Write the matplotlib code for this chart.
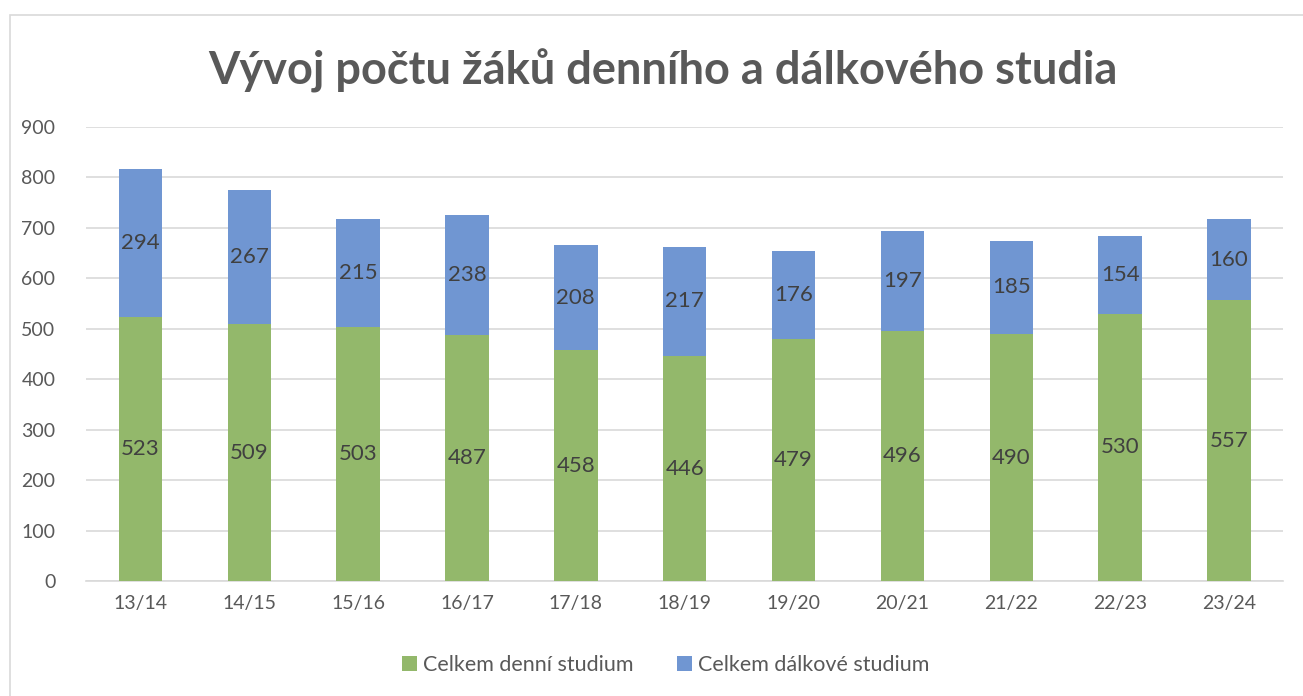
import matplotlib
matplotlib.use("Agg")
import matplotlib.pyplot as plt
from matplotlib.patches import Rectangle
import numpy as np

# ---- data ------------------------------------------------------------------ #
years = ["13/14", "14/15", "15/16", "16/17", "17/18", "18/19",
         "19/20", "20/21", "21/22", "22/23", "23/24"]
denni = [523, 509, 503, 487, 458, 446, 479, 496, 490, 530, 557]
dalkove = [294, 267, 215, 238, 208, 217, 176, 197, 185, 154, 160]

GREEN = "#93B86B"
BLUE = "#7096D2"
TXT = "#595959"

plt.rcParams["font.family"] = ["Lato", "DejaVu Sans"]

fig = plt.figure(figsize=(13.03, 6.96), dpi=100)
# chart border
fig.add_artist(Rectangle((10 / 1303, -0.1), 1.2, 1 - 15 / 696 + 0.1,
                         transform=fig.transFigure, fill=False,
                         edgecolor="#D9D9D9", lw=1.2))

ax = fig.add_axes([0.066, 0.165, 0.919, 0.6525])
x = np.arange(len(years))
w = 0.4
b1 = ax.bar(x, denni, w, color=GREEN, label="Celkem denní studium", zorder=3)
b2 = ax.bar(x, dalkove, w, bottom=denni, color=BLUE,
            label="Celkem dálkové studium", zorder=3)
ax.bar_label(b1, label_type="center", fontsize=16, color="#404040")
ax.bar_label(b2, label_type="center", fontsize=16, color="#404040")

ax.set_ylim(0, 900)
ax.set_xlim(-0.5, len(years) - 0.5)
ax.set_yticks(range(0, 901, 100))
ax.set_xticks(x, years)
ax.grid(axis="y", color="#D9D9D9", lw=1.2, zorder=0)
for s in ("top", "right", "left"):
    ax.spines[s].set_visible(False)
ax.spines["bottom"].set_color("#D9D9D9")
ax.spines["bottom"].set_linewidth(1.2)
ax.tick_params(axis="both", length=0, labelsize=14, colors=TXT)
ax.tick_params(axis="y", pad=22)
ax.tick_params(axis="x", pad=10)

fig.text(0.509, 0.898, "Vývoj počtu žáků denního a dálkového studia",
         ha="center", va="center", fontsize=32.5, fontweight="bold", color=TXT)

fig.legend(handles=[b1, b2], loc="center", bbox_to_anchor=(0.511, 0.045),
           ncol=2, frameon=False, fontsize=15.5, labelcolor=TXT,
           handlelength=0.7, handleheight=0.7, handletextpad=0.3,
           columnspacing=2.0)

fig.savefig("out.png", dpi=100)
